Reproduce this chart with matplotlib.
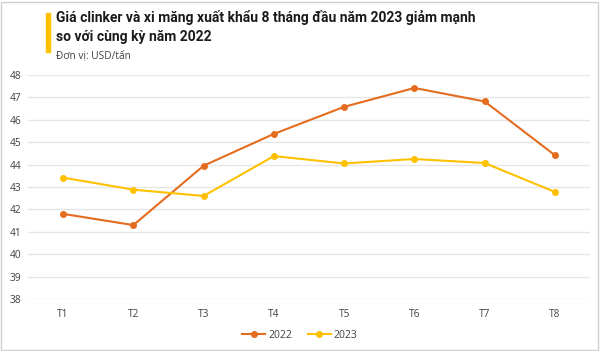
import matplotlib.pyplot as plt
from matplotlib.patches import Rectangle

# data
months = ["T1", "T2", "T3", "T4", "T5", "T6", "T7", "T8"]
price_2022 = [41.8, 41.3, 43.95, 45.37, 46.58, 47.42, 46.82, 44.42]
price_2023 = [43.42, 42.88, 42.6, 44.38, 44.05, 44.25, 44.07, 42.78]
y_ticks = list(range(38, 49))

title = "Giá clinker và xi măng xuất khẩu 8 tháng đầu năm 2023 giảm mạnh\nso với cùng kỳ năm 2022"
unit = "Đơn vị: USD/tấn"

plt.rcParams['font.family'] = ['Open Sans', 'DejaVu Sans']

fig = plt.figure(figsize=(6, 3.51), dpi=100)
ax = fig.add_axes([28 / 600, (351 - 299) / 351, 562 / 600, 224 / 351])

x = list(range(len(months)))
ax.plot(x, price_2022, color="#E46C1E", lw=1.5, marker="o", ms=4, label="2022")
ax.plot(x, price_2023, color="#FFC000", lw=1.5, marker="o", ms=4, label="2023")

ax.set_xlim(-0.5, len(months) - 0.5)
ax.set_ylim(38, 48)
ax.set_xticks(x)
ax.set_xticklabels(months)
ax.set_yticks(y_ticks)
ax.grid(axis="y", color="#E6E6E6", lw=1)
ax.set_axisbelow(True)
for s in ax.spines.values():
    s.set_visible(False)
ax.tick_params(length=0, labelsize=7.3, colors="#404040")
ax.tick_params(axis="x", pad=7)
ax.tick_params(axis="y", pad=5)

leg = fig.legend(loc="center", bbox_to_anchor=(0.5, (351 - 335) / 351), ncol=2,
                 frameon=False, fontsize=7.5, handlelength=2.2, columnspacing=1.5,
                 handletextpad=0.3)
for t in leg.get_texts():
    t.set_color("#404040")

# title block with yellow accent bar
fig.patches.append(Rectangle((46 / 600, 1 - 52 / 351), 4 / 600, 39 / 351,
                             transform=fig.transFigure, color="#FFC000"))
fig.text(56 / 600, 1 - 10 / 351, title, fontsize=10, fontweight="bold",
         family=["Roboto", "DejaVu Sans"],
         va="top", ha="left", color="#1A1A1A", linespacing=1.45)
fig.text(56 / 600, 1 - 50 / 351, unit, fontsize=7.3, va="top", ha="left", color="#404040")

# light frame
fig.patches.append(Rectangle((0.002, 0.003), 0.995, 0.992, transform=fig.transFigure,
                             fill=False, ec="#D0D0D0", lw=1))

fig.savefig("out.png", dpi=100)
